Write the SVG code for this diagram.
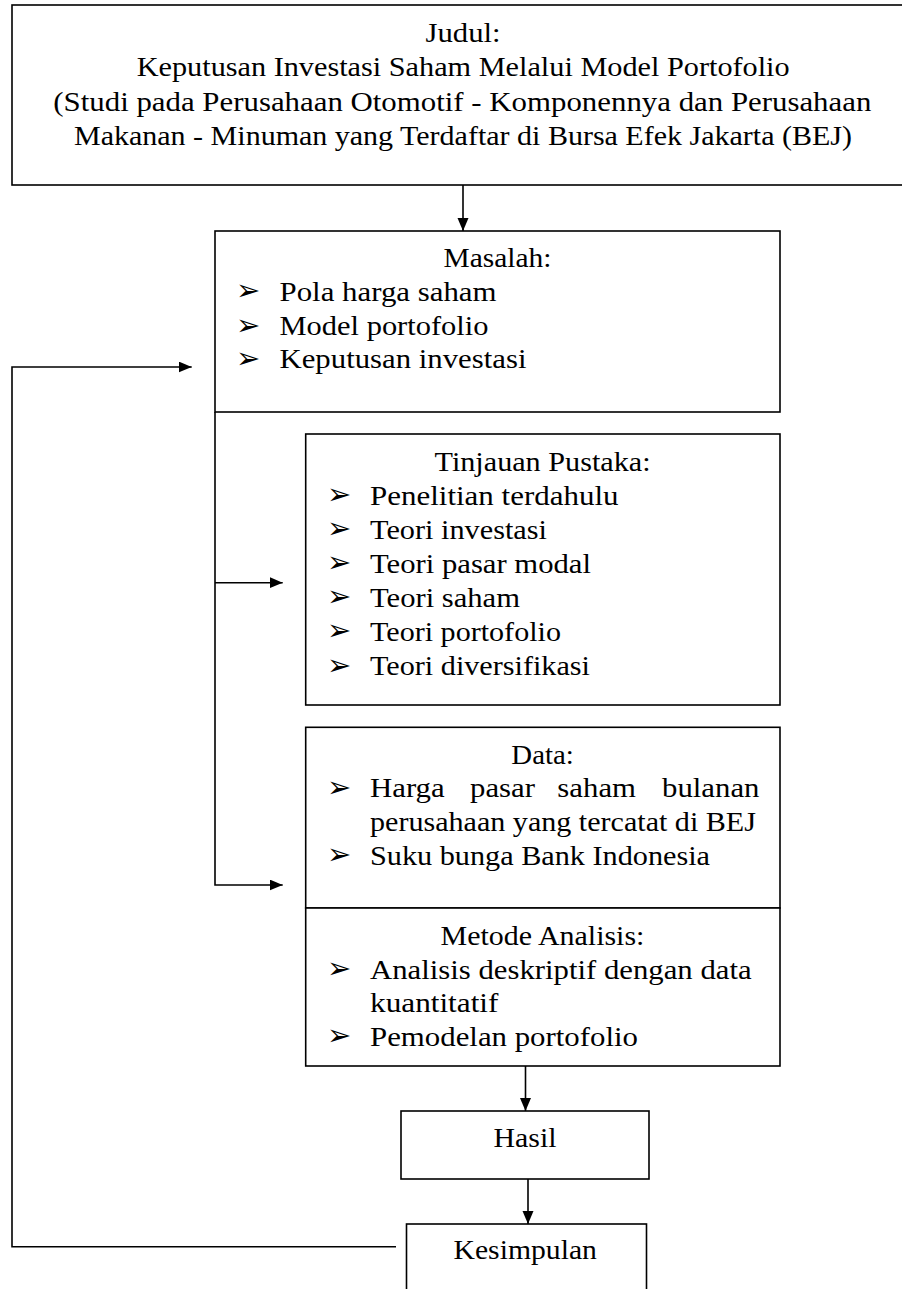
<svg xmlns="http://www.w3.org/2000/svg" width="902" height="1289" viewBox="0 0 902 1289">
<style>
.t{font-family:"Liberation Serif","Times New Roman",serif;font-size:27.5px;fill:#000}
.b{font-family:"DejaVu Sans",sans-serif;font-size:29px;fill:#000}
.box{fill:#fff;stroke:#000;stroke-width:1.6}
.ln{fill:none;stroke:#000;stroke-width:1.6}
</style>
<defs>
<marker id="ah" markerUnits="userSpaceOnUse" markerWidth="14" markerHeight="12" refX="13" refY="5.5" orient="auto">
<path d="M0,0 L13,5.5 L0,11 z" fill="#000"/>
</marker>
</defs>

<g id="judul">
<rect class="box" x="12" y="5" width="902" height="180" stroke-width="2.2"/>
<text class="t" transform="matrix(1.12 0 0 1 425.5 41.5)" textLength="67" lengthAdjust="spacingAndGlyphs">Judul:</text>
<text class="t" transform="matrix(1.12 0 0 1 136.7 76.3)" textLength="583" lengthAdjust="spacingAndGlyphs">Keputusan Investasi Saham Melalui Model Portofolio</text>
<text class="t" transform="matrix(1.12 0 0 1 53.3 110.8)" textLength="730.4" lengthAdjust="spacingAndGlyphs">(Studi pada Perusahaan Otomotif - Komponennya dan Perusahaan</text>
<text class="t" transform="matrix(1.12 0 0 1 74 145.3)" textLength="694.6" lengthAdjust="spacingAndGlyphs">Makanan - Minuman yang Terdaftar di Bursa Efek Jakarta (BEJ)</text>
</g>

<g id="masalah">
<rect class="box" x="215" y="231" width="565" height="181"/>
<text class="t" transform="matrix(1.12 0 0 1 443.5 267)" textLength="96.4" lengthAdjust="spacingAndGlyphs">Masalah:</text>
<text class="b" x="236" y="300">➢</text>
<text class="t" transform="matrix(1.12 0 0 1 279.5 300.5)" textLength="193.8" lengthAdjust="spacingAndGlyphs">Pola harga saham</text>
<text class="b" x="236" y="334.5">➢</text>
<text class="t" transform="matrix(1.12 0 0 1 279.5 335)" textLength="186.6" lengthAdjust="spacingAndGlyphs">Model portofolio</text>
<text class="b" x="236" y="367.5">➢</text>
<text class="t" transform="matrix(1.12 0 0 1 279.5 368)" textLength="220.5" lengthAdjust="spacingAndGlyphs">Keputusan investasi</text>
</g>

<g id="tinjauan">
<rect class="box" x="305.7" y="434" width="474.3" height="271"/>
<text class="t" transform="matrix(1.12 0 0 1 434.5 471)" textLength="192.9" lengthAdjust="spacingAndGlyphs">Tinjauan Pustaka:</text>
<text class="b" x="327" y="504">➢</text>
<text class="t" transform="matrix(1.12 0 0 1 370 504.5)" textLength="221.9" lengthAdjust="spacingAndGlyphs">Penelitian terdahulu</text>
<text class="b" x="327" y="538.1">➢</text>
<text class="t" transform="matrix(1.12 0 0 1 370 538.6)" textLength="158" lengthAdjust="spacingAndGlyphs">Teori investasi</text>
<text class="b" x="327" y="572.2">➢</text>
<text class="t" transform="matrix(1.12 0 0 1 370 572.7)" textLength="197.3" lengthAdjust="spacingAndGlyphs">Teori pasar modal</text>
<text class="b" x="327" y="606.3">➢</text>
<text class="t" transform="matrix(1.12 0 0 1 370 606.8)" textLength="133.9" lengthAdjust="spacingAndGlyphs">Teori saham</text>
<text class="b" x="327" y="640.4">➢</text>
<text class="t" transform="matrix(1.12 0 0 1 370 640.9)" textLength="170.5" lengthAdjust="spacingAndGlyphs">Teori portofolio</text>
<text class="b" x="327" y="674.5">➢</text>
<text class="t" transform="matrix(1.12 0 0 1 370 675)" textLength="196.4" lengthAdjust="spacingAndGlyphs">Teori diversifikasi</text>
</g>

<g id="data">
<rect class="box" x="305.7" y="727.3" width="474.3" height="180.7"/>
<text class="t" transform="matrix(1.12 0 0 1 511.3 763.5)" textLength="55.8" lengthAdjust="spacingAndGlyphs">Data:</text>
<text class="b" x="327" y="796.5">➢</text>
<text class="t" transform="matrix(1.12 0 0 1 370 797)"><tspan x="0">Harga</tspan> <tspan x="89.3">pasar</tspan> <tspan x="167.3">saham</tspan> <tspan x="260.7">bulanan</tspan></text>
<text class="t" transform="matrix(1.12 0 0 1 370 830.5)" textLength="344.6" lengthAdjust="spacingAndGlyphs">perusahaan yang tercatat di BEJ</text>
<text class="b" x="327" y="864">➢</text>
<text class="t" transform="matrix(1.12 0 0 1 370 864.5)" textLength="303.6" lengthAdjust="spacingAndGlyphs">Suku bunga Bank Indonesia</text>
</g>

<g id="metode">
<rect class="box" x="305.7" y="908" width="474.3" height="158"/>
<text class="t" transform="matrix(1.12 0 0 1 440.5 945)" textLength="182.1" lengthAdjust="spacingAndGlyphs">Metode Analisis:</text>
<text class="b" x="327" y="978.2">➢</text>
<text class="t" transform="matrix(1.12 0 0 1 370 978.7)" textLength="340.7" lengthAdjust="spacingAndGlyphs">Analisis deskriptif dengan data</text>
<text class="t" transform="matrix(1.12 0 0 1 370 1012.3)" textLength="114.7" lengthAdjust="spacingAndGlyphs">kuantitatif</text>
<text class="b" x="327" y="1045">➢</text>
<text class="t" transform="matrix(1.12 0 0 1 370 1045.5)" textLength="239.3" lengthAdjust="spacingAndGlyphs">Pemodelan portofolio</text>
</g>

<g id="hasil">
<rect class="box" x="401" y="1111" width="248" height="68"/>
<text class="t" transform="matrix(1.12 0 0 1 493.5 1146.7)" textLength="56.3" lengthAdjust="spacingAndGlyphs">Hasil</text>
</g>

<g id="kesimpulan">
<rect class="box" x="406.5" y="1224" width="240" height="90"/>
<text class="t" transform="matrix(1.12 0 0 1 453.5 1259)" textLength="128.1" lengthAdjust="spacingAndGlyphs">Kesimpulan</text>
</g>

<g id="connectors">
<line class="ln" x1="463" y1="185" x2="463" y2="231" marker-end="url(#ah)"/>
<polyline class="ln" points="215,412 215,885 282.7,885" marker-end="url(#ah)"/>
<line class="ln" x1="215" y1="582.7" x2="282.7" y2="582.7" marker-end="url(#ah)"/>
<line class="ln" x1="525.5" y1="1066" x2="525.5" y2="1111" marker-end="url(#ah)"/>
<line class="ln" x1="528" y1="1179" x2="528" y2="1224" marker-end="url(#ah)"/>
<polyline class="ln" points="396,1246.7 12,1246.7 12,367 191.7,367" marker-end="url(#ah)"/>
</g>
</svg>
